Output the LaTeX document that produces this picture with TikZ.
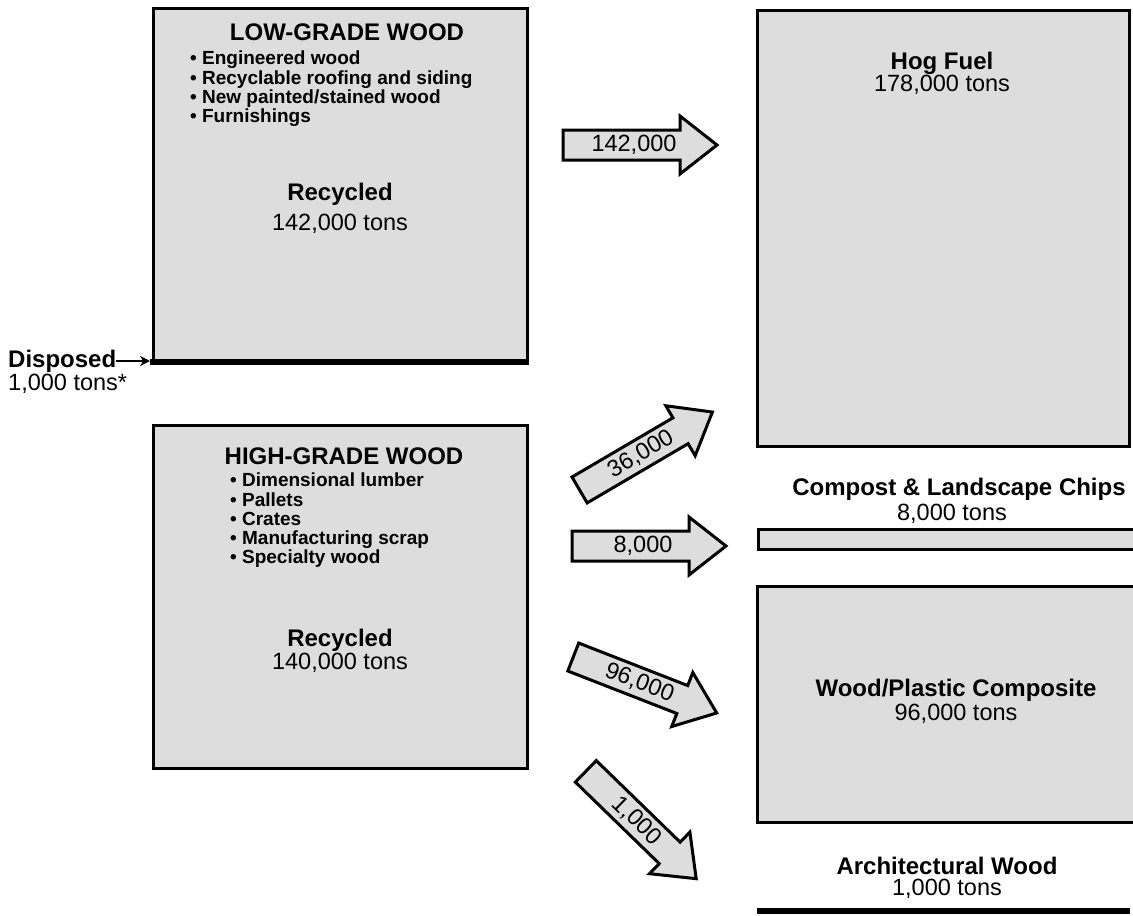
\documentclass[tikz,border=0pt]{standalone}
\usepackage{fontspec}
\setmainfont{Liberation Sans}
\usetikzlibrary{arrows.meta}
\definecolor{boxgray}{HTML}{DDDDDD}
\tikzset{
  panel/.style={draw=black, fill=boxgray, line width=3pt},
  heavyedge/.style={draw=black, line width=6pt},
  headtxt/.style={font=\bfseries\fontsize{24}{28}\selectfont, inner sep=0pt},
  plaintxt/.style={font=\fontsize{23.5}{28}\selectfont, inner sep=0pt},
  listtxt/.style={font=\bfseries\fontsize{19}{19.2}\selectfont, align=left, anchor=north west, inner sep=0pt},
  arrowtxt/.style={font=\fontsize{23.5}{28}\selectfont, transform shape, inner sep=0pt},
  pics/flowarrow/.style={code={
    \draw[panel] (-77,-15) -- (40,-15) -- (40,-29) -- (77,0) -- (40,29) -- (40,15) -- (-77,15) -- cycle;
    \node[arrowtxt] (-label) at (-6,0) {#1};
  }}
}
\begin{document}
\begin{tikzpicture}[x=1pt, y=-1pt]
\useasboundingbox (0,0) rectangle (1133,916);

% source panels
\draw[panel] (153,8) rectangle (527,362);
\draw[heavyedge] (150,362) coordinate (lowbarL) -- (529,362) coordinate (lowbarR);
\draw[panel] (153,425) rectangle (527,768);

\node[headtxt] (lowtitle) at (347,32) {LOW-GRADE WOOD};
\node[listtxt] (lowlist) at (190,51) {• Engineered wood\\• Recyclable roofing and siding\\• New painted/stained wood\\• Furnishings};
\node[headtxt] (lowrec) at (340,194) {Recycled};
\node[plaintxt] (lowtons) at (340,224) {142,000 tons};

\node[headtxt] (hightitle) at (344,456) {HIGH-GRADE WOOD};
\node[listtxt] (highlist) at (230,473) {• Dimensional lumber\\• Pallets\\• Crates\\• Manufacturing scrap\\• Specialty wood};
\node[headtxt] (highrec) at (340,640) {Recycled};
\node[plaintxt] (hightons) at (340,663) {140,000 tons};

% disposed fraction
\node[headtxt, anchor=west] (disp) at (8,361) {Disposed};
\node[plaintxt, anchor=west] (disptons) at (8,384) {1,000 tons*};
\draw[line width=2.5pt, -{Stealth[length=10pt, width=10pt]}] (disp.east) -- (disp.east -| lowbarL);

% destination panels
\draw[panel] (757,10) rectangle (1129,446);
\node[headtxt] (hogname) at (942,63) {Hog Fuel};
\node[plaintxt] (hogtons) at (942,85) {178,000 tons};

\draw[panel] (758,529) rectangle (1160,549);
\node[headtxt] (compname) at (959,489) {Compost \& Landscape Chips};
\node[plaintxt] (comptons) at (952,514) {8,000 tons};

\draw[panel] (757,586) rectangle (1160,822);
\node[headtxt] (wpcname) at (956,690) {Wood/Plastic Composite};
\node[plaintxt] (wpctons) at (956,714) {96,000 tons};

\node[headtxt] (archname) at (947,866) {Architectural Wood};
\node[plaintxt] (archtons) at (947,889) {1,000 tons};
\draw[heavyedge] (757,911) coordinate (archL) -- (1130,911) coordinate (archR);

% flows
\pic (f142) at (640,145) {flowarrow={142,000}};
\pic[rotate=30.4] (f36) at (646,451) {flowarrow={36,000}};
\pic (f8) at (649,546) {flowarrow={8,000}};
\pic[rotate=-21.3] (f96) at (645,685) {flowarrow={96,000}};
\pic[rotate=-44.2] (f1) at (641,825) {flowarrow={1,000}};
\end{tikzpicture}
\end{document}
